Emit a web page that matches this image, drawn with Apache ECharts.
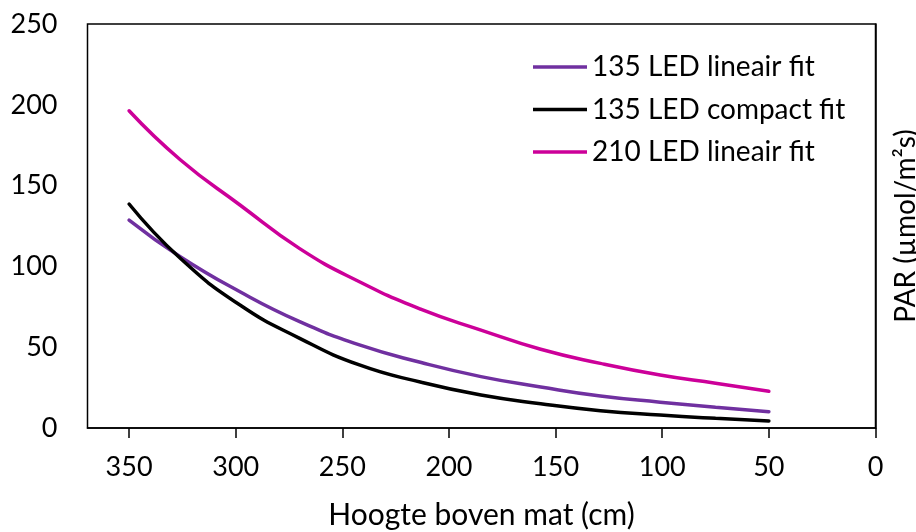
<!DOCTYPE html>
<html>
<head>
<meta charset="utf-8">
<script src="https://cdn.jsdelivr.net/npm/echarts@6/dist/echarts.min.js"></script>
<style>
html,body{margin:0;padding:0;background:#fff;}
#chart{width:916px;height:532px;}
</style>
</head>
<body>
<div id="chart"></div>
<script>
// Heights above the mat (cm) where values were read
const heights = [350, 326, 298, 270, 242, 213, 185, 157, 129, 101, 75, 50];
// PAR values (µmol/m²s)
const led135Lineair = [128.7, 106, 84.3, 65.8, 51.4, 40.5, 31.8, 25.4, 19.8, 16.0, 12.8, 10.1];
const led135Compact = [138.6, 105, 76.1, 55.5, 39.0, 28.3, 20.4, 15.0, 10.7, 8.0, 6.0, 4.4];
const led210Lineair = [196.3, 166, 138, 111, 90.5, 73.4, 60.6, 48.7, 40.0, 32.8, 27.7, 22.8];
const seriesNames = ['135 LED lineair fit', '135 LED compact fit', '210 LED lineair fit'];
const xTicks = [0, 50, 100, 150, 200, 250, 300, 350];

const FONT = 'Lato';
const pair = arr => heights.map((h, i) => [h, arr[i]]);
const colors = ['#7030A0', '#000000', '#CC0099'];
const values = [led135Lineair, led135Compact, led210Lineair];

const chart = echarts.init(document.getElementById('chart'), null, {renderer: 'canvas'});
chart.setOption({
  animation: false,
  backgroundColor: '#fff',
  textStyle: {fontFamily: FONT, color: '#000'},
  grid: {left: 87.5, right: 40.5, top: 24, bottom: 104, show: true, borderColor: '#000', borderWidth: 1.5,
         containLabel: false, outerBoundsMode: 'none'},
  legend: {
    orient: 'vertical', left: 533, top: 52, itemGap: 12.5, padding: 0,
    icon: 'rect', itemWidth: 54, itemHeight: 3.5,
    textStyle: {fontFamily: FONT, fontSize: 28, color: '#000', lineHeight: 30},
    data: seriesNames
  },
  xAxis: {
    type: 'value', inverse: true, min: 0, max: 369.5, interval: 50,
    name: 'Hoogte boven mat (cm)', nameLocation: 'middle', nameGap: 72,
    nameTextStyle: {fontFamily: FONT, fontSize: 30, color: '#000'},
    axisLine: {show: true, lineStyle: {color: '#000', width: 1.5}},
    axisTick: {show: true, length: 10, inside: false, lineStyle: {color: '#000', width: 1.5}, customValues: xTicks},
    axisLabel: {fontFamily: FONT, fontSize: 27, color: '#000', margin: 26, customValues: xTicks},
    splitLine: {show: false}
  },
  yAxis: [{
    type: 'value', min: 0, max: 250, interval: 50,
    axisLine: {show: true, lineStyle: {color: '#000', width: 1.5}},
    axisTick: {show: false},
    axisLabel: {fontFamily: FONT, fontSize: 27, color: '#000', margin: 30},
    splitLine: {show: false}
  }, {
    type: 'value', min: 0, max: 250, interval: 50, position: 'right',
    name: 'PAR (µmol/m²s)', nameLocation: 'middle', nameGap: 16, nameRotate: 90,
    nameTextStyle: {fontFamily: FONT, fontSize: 28, color: '#000'},
    axisLine: {show: false}, axisTick: {show: false}, axisLabel: {show: false}, splitLine: {show: false}
  }],
  series: values.map((v, i) => ({
    name: seriesNames[i], type: 'line', data: pair(v), smooth: 0.5,
    symbol: 'none', yAxisIndex: 0,
    lineStyle: {color: colors[i], width: 3.5, cap: 'round'},
    itemStyle: {color: colors[i]}
  }))
});
</script>
</body>
</html>
